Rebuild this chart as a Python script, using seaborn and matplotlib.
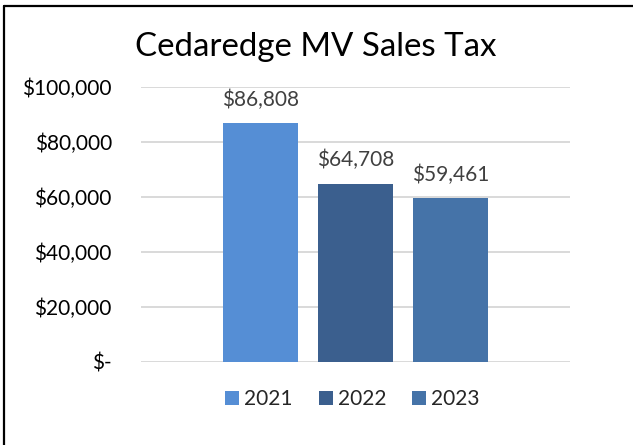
import matplotlib
matplotlib.use("Agg")
import matplotlib.pyplot as plt
from matplotlib.patches import Patch
from matplotlib.lines import Line2D
import seaborn as sns
import pandas as pd

title = "Cedaredge MV Sales Tax"
years = ["2021", "2022", "2023"]
values = [86808, 64708, 59461]
colors = ["#558ED5", "#3B5F8E", "#4573A8"]
yticks = [0, 20000, 40000, 60000, 80000, 100000]

sns.set_theme(style="white")
plt.rcParams["font.family"] = ["Lato", "DejaVu Sans"]

df = pd.DataFrame({"year": years, "value": values})

fig = plt.figure(figsize=(6.33, 4.45), dpi=100)
ax = fig.add_axes([141 / 633, 1 - 362 / 445, 429 / 633, 275 / 445])

sns.barplot(data=df, x="year", y="value", hue="year", palette=colors,
            dodge=False, width=0.79, saturation=1, legend=False, ax=ax, zorder=3,
            edgecolor="none", linewidth=0)

ax.set_xlim(-1.253, 3.253)
ax.set_ylim(0, 100000)
ax.set_yticks(yticks)
ax.set_yticklabels([f"${v:,.0f}" if v else "$-" for v in yticks], fontsize=15, color="#000000")
ax.set_xticks([])
ax.set_xlabel("")
ax.set_ylabel("")
ax.tick_params(axis="y", length=0, pad=21)
ax.yaxis.grid(True, color="#D9D9D9", linewidth=1.4, zorder=0)
ax.set_axisbelow(True)
for s in ax.spines.values():
    s.set_visible(False)

for i, v in enumerate(values):
    ax.annotate(f"${v:,.0f}", xy=(i, v), xytext=(0, 12.7), textcoords="offset points",
                ha="center", va="baseline", fontsize=15, color="#404040")

fig.text(316 / 633, 1 - 55.5 / 445, title, ha="center", va="baseline",
         fontsize=23.8, color="#000000")

handles = [Patch(facecolor=c, edgecolor="none", label=y) for c, y in zip(colors, years)]
fig.legend(handles=handles, loc="center", bbox_to_anchor=(352.5 / 633, 1 - 399 / 445),
           ncol=3, frameon=False, fontsize=15, handlelength=0.66, handleheight=0.66,
           handletextpad=0.25, columnspacing=1.25, borderpad=0, borderaxespad=0)

fig.add_artist(Line2D([3.75 / 633, 1], [1 - 5.5 / 445, 1 - 5.5 / 445],
                      transform=fig.transFigure, color="black", linewidth=1.6))
fig.add_artist(Line2D([3.75 / 633, 3.75 / 633], [0, 1 - 5.5 / 445],
                      transform=fig.transFigure, color="black", linewidth=1.6))

fig.savefig("out.png", dpi=100, facecolor="white")
